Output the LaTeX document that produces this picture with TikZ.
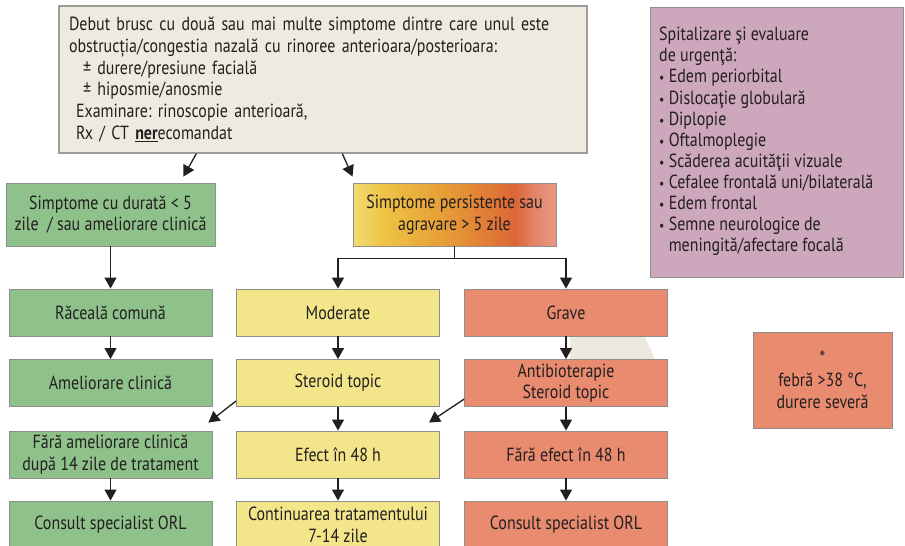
\documentclass[tikz,border=0pt]{standalone}
\usepackage{fontspec}
\setmainfont[FakeStretch=0.84]{PT Sans}
\usetikzlibrary{arrows.meta,calc}
\frenchspacing

\definecolor{ink}{HTML}{231F20}
\definecolor{topfill}{HTML}{EDEADF}
\definecolor{topline}{HTML}{9C9B96}
\definecolor{greenfill}{HTML}{8FC28B}
\definecolor{yellowfill}{HTML}{F3E58A}
\definecolor{redfill}{HTML}{E98B6F}
\definecolor{purplefill}{HTML}{CDA7BC}
\definecolor{boxline}{HTML}{8E8E8A}
\definecolor{ghost}{HTML}{EDE9DE}
\definecolor{pa}{HTML}{F2DC70}
\definecolor{pb}{HTML}{EEC244}
\definecolor{pc}{HTML}{E69C36}
\definecolor{pd}{HTML}{DD6636}
\definecolor{pe}{HTML}{E3846A}
\definecolor{pf}{HTML}{E99A82}

% left-to-right colour run of the "persistent symptoms" box
\pgfdeclarehorizontalshading{persist}{100bp}{%
  color(0bp)=(pa); color(25bp)=(pa); color(33bp)=(pb); color(48bp)=(pc);
  color(65bp)=(pd); color(69.5bp)=(pe); color(75bp)=(pf); color(100bp)=(pf)}

\tikzset{
  txt/.style={text=ink, font=\fontsize{19}{21.7}\selectfont},
  box/.style={txt, draw=boxline, line width=0.9pt, inner sep=0pt, align=center,
              minimum width=203pt, minimum height=47pt},
  gbox/.style={box, fill=greenfill},
  ybox/.style={box, fill=yellowfill},
  rbox/.style={box, fill=redfill},
  link/.style={draw=ink, line width=1.3pt},
  arr/.style={link, -{Triangle[length=11pt,width=12pt]}},
}

\begin{document}
\begin{tikzpicture}[x=1pt,y=-1pt]
\useasboundingbox (0,0) rectangle (905,546);
\fill[white] (0,0) rectangle (905,546);

% faint backdrop patch between the severe-case boxes
\fill[ghost] (570,337) -- (645,337) -- (655,360) -- (570,360) -- cycle;

% opening statement
\node[txt, draw=topline, line width=1.3pt, fill=topfill, inner xsep=10pt, inner ysep=0pt,
      minimum width=528pt, minimum height=147pt, text width=508pt, align=left]
  (top) at (323,79.5) {%
  \makebox[504pt][s]{Debut brusc cu două sau mai multe simptome dintre care unul este}\\
  obstrucția/congestia nazală cu rinoree anterioara/posterioara:\\
  \hspace*{14pt}± durere/presiune facială\\
  \hspace*{14pt}± hiposmie/anosmie\\
  \hspace*{7pt}Examinare: rinoscopie anterioară,\\
  \hspace*{7pt}Rx / CT \underline{\textbf{ner}}ecomandat};

% emergency panel
\node[txt, draw=boxline, line width=0.9pt, fill=purplefill, minimum width=253pt,
      minimum height=270pt] (urg) at (776.5,142) {};
\node[txt, anchor=north west, inner sep=0pt, align=left,
      font=\fontsize{19}{21.1}\selectfont] (urgtext) at (659,27) {%
  Spitalizare şi evaluare\\
  de urgenţă:\\
  {\fontsize{14}{14}\selectfont•} Edem periorbital\\
  {\fontsize{14}{14}\selectfont•} Dislocaţie globulară\\
  {\fontsize{14}{14}\selectfont•} Diplopie\\
  {\fontsize{14}{14}\selectfont•} Oftalmoplegie\\
  {\fontsize{14}{14}\selectfont•} Scăderea acuităţii vizuale\\
  {\fontsize{14}{14}\selectfont•} Cefalee frontală uni/bilaterală\\
  {\fontsize{14}{14}\selectfont•} Edem frontal\\
  {\fontsize{14}{14}\selectfont•} Semne neurologice de\\
  \hphantom{{\fontsize{14}{14}\selectfont•} }meningită/afectare focală};

% left column
\node[gbox, minimum width=209pt, minimum height=63pt] (g1) at (110.5,214.5)
  {Simptome cu durată < 5\\zile \ / sau ameliorare clinică};
\node[gbox] (g2) at (110.5,312.5) {Răceală comună};
\node[gbox] (g3) at (110.5,383) {Ameliorare clinică};
\node[gbox] (g4) at (110.5,454.5) {Fără ameliorare clinică\\după 14 zile de tratament};
\node[gbox] (g5) at (110.5,524.5) {Consult specialist ORL};

% persistent symptoms
\node[box, shading=persist, minimum width=203pt, minimum height=63pt] (o1) at (454.5,214.5)
  {Simptome persistente sau\\agravare > 5 zile};

% moderate column
\node[ybox] (y1) at (338,312.5) {Moderate};
\node[ybox] (y2) at (338,383) {Steroid topic};
\node[ybox] (y3) at (338,454.5) {Efect în 48 h};
\node[ybox] (y4) at (338,524.5) {Continuarea tratamentului\\7-14 zile};

% severe column
\node[rbox] (r1) at (566,312.5) {Grave};
\node[rbox] (r2) at (566,383) {Antibioterapie\\Steroid topic};
\node[rbox] (r3) at (566,454.5) {Fără efect în 48 h};
\node[rbox] (r4) at (566,524.5) {Consult specialist ORL};

% footnote box
\node[rbox, minimum width=139pt, minimum height=96pt] (star) at (822.5,380)
  {*\\febră >38 °C,\\durere severă};

% connectors
\draw[arr] ($(top.south west)+(138,0)$) -- ($(g1.north east)+(-32,-6)$);
\draw[arr] ($(top.south west)+(284,0)$) -- ($(o1.north west)+(0,-6)$);

\draw[arr] (g1.south -| g2.north) -- (g2.north);
\draw[arr] (g2) -- (g3);
\draw[arr] (g4) -- (g5);

\draw[link] (o1.south) -- ++(0,12) coordinate (split);
\draw[arr] (split) -| (y1.north);
\draw[arr] (split) -| (r1.north);

\draw[arr] (y1) -- (y2);
\draw[arr] (y2) -- (y3);
\draw[arr] (y3) -- (y4);

\draw[arr] (r1) -- (r2);
\draw[arr] (r2) -- (r3);
\draw[arr] (r3) -- (r4);

\coordinate (g4tip) at ($(g4.north east)+(-4,-8)$);
\coordinate (y3tip) at ($(y3.north east)+(-11,-8)$);
\draw[arr] (y2.190) -- (g4tip);
\draw[arr] (r2.189) -- (y3tip);
\end{tikzpicture}
\end{document}
